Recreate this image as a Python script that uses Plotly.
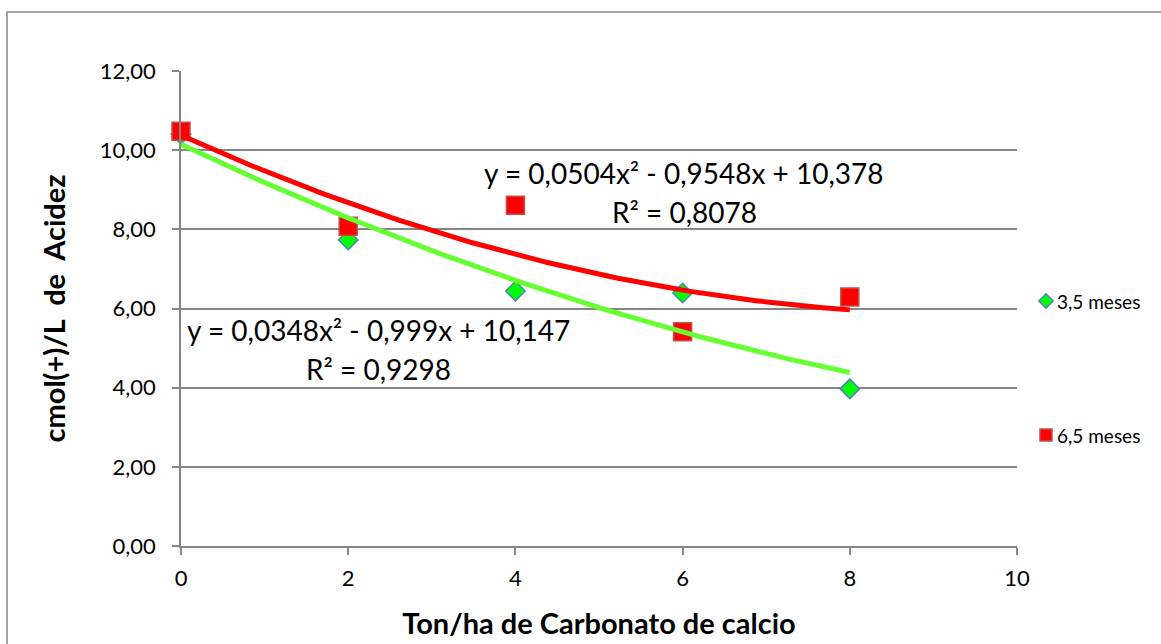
import numpy as np
import plotly.graph_objects as go

# Dosis de carbonato de calcio (Ton/ha)
dosis = [0, 2, 4, 6, 8]

# Acidez intercambiable, cmol(+)/L
acidez_35 = [10.40, 7.73, 6.44, 6.39, 3.97]
acidez_65 = [10.48, 8.08, 8.61, 5.41, 6.29]

# Coeficientes de las líneas de tendencia polinómicas (a·x² + b·x + c)
coef_35 = [0.0348, -0.999, 10.147]
coef_65 = [0.0504, -0.9548, 10.378]

ecuacion_35 = ["y = 0,0348x² - 0,999x + 10,147", "R² = 0,9298"]
ecuacion_65 = ["y = 0,0504x² - 0,9548x + 10,378", "R² = 0,8078"]

series_names = ["3,5 meses", "6,5 meses"]

y_ticks = [0, 2, 4, 6, 8, 10, 12]
y_ticktext = ["0,00", "2,00", "4,00", "6,00", "8,00", "10,00", "12,00"]
x_ticks = [0, 2, 4, 6, 8, 10]

FONT = "Lato"
GRID = "#868686"
W, H = 1161, 644
ML, MR, MT, MB = 181, 10, 71, 98
PW = W - ML - MR          # paper width in px
PLOT_W = 836              # plotting area width in px
PH = H - MT - MB

xs = np.linspace(min(dosis), max(dosis), 200)
fit_35 = np.polyval(coef_35, xs)
fit_65 = np.polyval(coef_65, xs)

green_marker = dict(symbol="diamond", color="#00FF00",
                    line=dict(color="#4F81BD", width=1.5))
red_marker = dict(symbol="square", color="#FF0000",
                  line=dict(color="#C0504D", width=1.5))

fig = go.Figure()

fig.add_trace(go.Scatter(
    x=dosis, y=acidez_35, mode="markers", name=series_names[0],
    marker=dict(size=15, **green_marker), cliponaxis=False,
))
fig.add_trace(go.Scatter(
    x=dosis, y=acidez_65, mode="markers", name=series_names[1],
    marker=dict(size=18, **red_marker), cliponaxis=False,
))
fig.add_trace(go.Scatter(
    x=xs, y=fit_65, mode="lines", hoverinfo="skip",
    line=dict(color="#FF0000", width=5), cliponaxis=False,
))
fig.add_trace(go.Scatter(
    x=xs, y=fit_35, mode="lines", hoverinfo="skip",
    line=dict(color="#66FF33", width=5), cliponaxis=False,
))

# Leyenda a la derecha: símbolos en un eje auxiliar, textos como anotaciones
leg_y = [1, 0]
fig.add_trace(go.Scatter(
    x=[0], y=[leg_y[0]], mode="markers", xaxis="x2", yaxis="y2",
    marker=dict(size=11, **green_marker), hoverinfo="skip",
))
fig.add_trace(go.Scatter(
    x=[0], y=[leg_y[1]], mode="markers", xaxis="x2", yaxis="y2",
    marker=dict(size=12, **red_marker), hoverinfo="skip",
))

annotations = []
for (cx, cy, lines) in [(6.02, 9.42, ecuacion_65), (2.36, 5.45, ecuacion_35)]:
    for i, t in enumerate(lines):
        annotations.append(dict(
            x=cx, y=cy - i * 0.98, xref="x", yref="y", text=t,
            showarrow=False, xanchor="center", yanchor="middle",
            font=dict(family=FONT, size=28, color="#000000"),
        ))
for name, ly in zip(series_names, leg_y):
    annotations.append(dict(
        x=0, y=ly, xref="x2", yref="y2", text=name, xshift=9,
        showarrow=False, xanchor="left", yanchor="middle",
        font=dict(family=FONT, size=19, color="#000000"),
    ))

# Área del eje auxiliar de la leyenda (px): x 1046, y 301 .. 435
lx0 = (1046 - ML - 20) / PW
lx1 = (1046 - ML + 20) / PW
ly_top = 1 - (301 - 20 - MT) / PH
ly_bot = 1 - (435 + 20 - MT) / PH

fig.update_layout(
    width=W, height=H,
    margin=dict(l=ML, r=MR, t=MT, b=MB, autoexpand=False),
    paper_bgcolor="#FFFFFF", plot_bgcolor="#FFFFFF",
    font=dict(family=FONT, color="#000000"),
    annotations=annotations,
    showlegend=False,
    xaxis=dict(
        domain=[0, PLOT_W / PW], automargin=False,
        range=[0, 10], tickvals=x_ticks, ticktext=[str(v) for v in x_ticks],
        showgrid=False, zeroline=False,
        showline=True, linecolor=GRID, linewidth=1.5,
        ticks="outside", ticklen=7, tickcolor=GRID, tickwidth=1.5,
        tickfont=dict(family=FONT, size=22, color="#000000"),
        ticklabelstandoff=5,
        title=dict(text="<b>Ton/ha de Carbonato de calcio</b>",
                   font=dict(family=FONT, size=29, color="#000000"),
                   standoff=24),
    ),
    yaxis=dict(
        range=[0, 12], tickvals=y_ticks, ticktext=y_ticktext, automargin=False,
        showgrid=True, gridcolor=GRID, gridwidth=1.5, zeroline=False,
        showline=True, linecolor=GRID, linewidth=1.5,
        ticks="outside", ticklen=7, tickcolor=GRID, tickwidth=1.5,
        tickfont=dict(family=FONT, size=22, color="#000000"),
        ticklabelstandoff=12,
        title=dict(text="<b>cmol(+)/L\u00a0 de\u00a0 Acidez</b>",
                   font=dict(family=FONT, size=29, color="#000000"),
                   standoff=26),
    ),
    xaxis2=dict(domain=[lx0, lx1], range=[-1, 1], anchor="y2",
                visible=False, fixedrange=True, automargin=False),
    yaxis2=dict(domain=[ly_bot, ly_top], range=[-20 / 134, 1 + 20 / 134],
                anchor="x2", visible=False, fixedrange=True, automargin=False),
    shapes=[dict(
        type="rect", xref="paper", yref="paper",
        x0=(7 - ML) / PW, x1=(1170 - ML) / PW,
        y0=1 - (660 - MT) / PH, y1=1 + (MT - 12) / PH,
        line=dict(color=GRID, width=1.5), fillcolor="rgba(0,0,0,0)",
        layer="below",
    )],
)

fig.write_html("out.html")
